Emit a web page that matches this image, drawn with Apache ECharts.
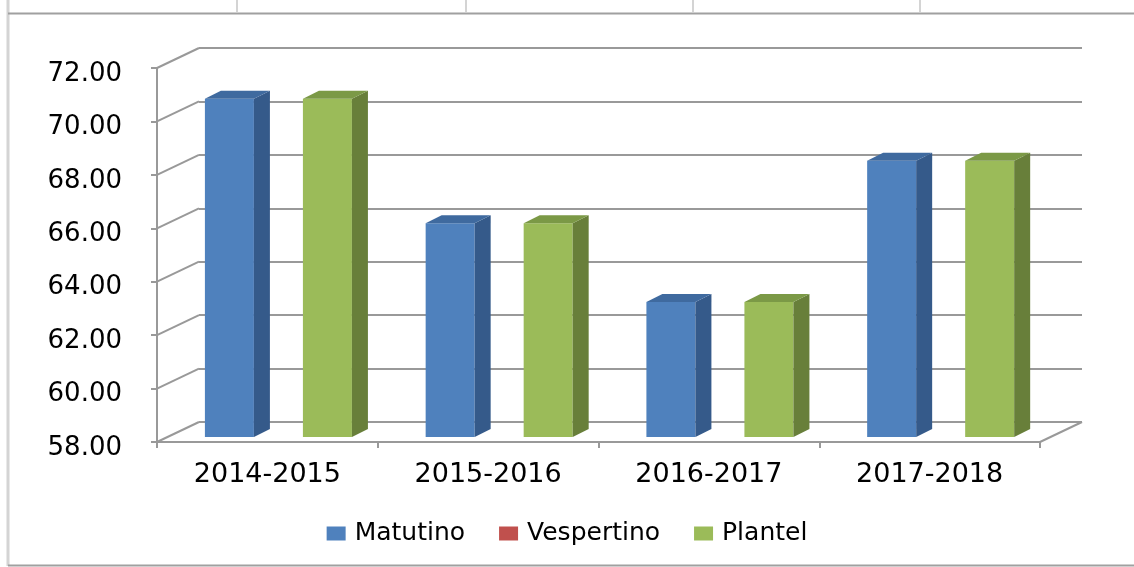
<!DOCTYPE html>
<html>
<head>
<meta charset="utf-8">
<script src="https://cdn.jsdelivr.net/npm/echarts@6/dist/echarts.min.js"></script>
<style>
html, body { margin: 0; padding: 0; background: #fff; }
#chart { width: 1134px; height: 567px; }
</style>
</head>
<body>
<div id="chart"></div>
<script>
// data
var categories = ['2014-2015', '2015-2016', '2016-2017', '2017-2018'];
var matutino = [70.66, 66.0, 63.05, 68.34];
var vespertino = [null, null, null, null];
var plantel = [70.66, 66.0, 63.05, 68.34];
var yTicks = [58, 60, 62, 64, 66, 68, 70, 72];

var chart = echarts.init(document.getElementById('chart'));

// depth of the floor / back wall and of the bars (pseudo 3d)
var DX = 42, DY = -20;
var BAR_DX = 16, BAR_DY = -8;
var FONT = 'DejaVu Sans';
var LINE_COLOR = '#999999';

function barRender(slot, front, side, top) {
  return function (params, api) {
    var v = api.value(1);
    if (v == null || isNaN(v)) return;
    var i = api.value(0);
    var band = api.size([1, 0])[0];
    var bw = band * 0.222;
    var c = api.coord([i, v]);
    var b = api.coord([i, yTicks[0]]);
    // bars sit a bit behind the front plane
    var x = c[0] + band * 0.05 + (slot - 1.5) * bw;
    var yt = c[1] - 5, yb = b[1] - 5;
    return {
      type: 'group',
      children: [
        { type: 'rect', shape: { x: x, y: yt, width: bw, height: yb - yt }, style: { fill: front } },
        { type: 'polygon', shape: { points: [[x + bw, yt], [x + bw + BAR_DX, yt + BAR_DY], [x + bw + BAR_DX, yb + BAR_DY], [x + bw, yb]] }, style: { fill: side } },
        { type: 'polygon', shape: { points: [[x, yt], [x + BAR_DX, yt + BAR_DY], [x + bw + BAR_DX, yt + BAR_DY], [x + bw, yt]] }, style: { fill: top } }
      ]
    };
  };
}

function toData(arr) {
  return arr.map(function (v, i) { return [i, v]; });
}

function wallRender(params, api) {
  var cs = params.coordSys;
  var v = api.value(1);
  var y = api.coord([0, v])[1];
  var children = [
    { type: 'line', shape: { x1: cs.x, y1: y, x2: cs.x + DX, y2: y + DY }, style: { stroke: LINE_COLOR, lineWidth: 2 } }
  ];
  if (v === yTicks[0]) {
    children.push({ type: 'line', shape: { x1: cs.x + cs.width, y1: y, x2: cs.x + cs.width + DX, y2: y + DY }, style: { stroke: LINE_COLOR, lineWidth: 2 } });
  }
  return { type: 'group', children: children };
}

var option = {
  animation: false,
  backgroundColor: '#fff',
  graphic: [
    { type: 'line', shape: { x1: 8, y1: 0, x2: 8, y2: 566 }, style: { stroke: '#d4d4d4', lineWidth: 3 } },
    { type: 'line', shape: { x1: 237, y1: 0, x2: 237, y2: 12 }, style: { stroke: '#d4d4d4', lineWidth: 2 } },
    { type: 'line', shape: { x1: 466, y1: 0, x2: 466, y2: 12 }, style: { stroke: '#d4d4d4', lineWidth: 2 } },
    { type: 'line', shape: { x1: 693, y1: 0, x2: 693, y2: 12 }, style: { stroke: '#d4d4d4', lineWidth: 2 } },
    { type: 'line', shape: { x1: 920, y1: 0, x2: 920, y2: 12 }, style: { stroke: '#d4d4d4', lineWidth: 2 } },
    { type: 'line', shape: { x1: 8, y1: 13.5, x2: 1134, y2: 13.5 }, style: { stroke: '#a0a0a0', lineWidth: 2 } },
    { type: 'line', shape: { x1: 8, y1: 565.5, x2: 1134, y2: 565.5 }, style: { stroke: '#a0a0a0', lineWidth: 2 } }
  ],
  legend: {
    data: ['Matutino', 'Vespertino', 'Plantel'],
    left: 'center',
    top: 516,
    icon: 'rect',
    itemWidth: 19,
    itemHeight: 14,
    itemGap: 34,
    textStyle: { fontFamily: FONT, fontSize: 25, color: '#000', padding: [0, 0, 0, 4] }
  },
  grid: [
    { left: 157, right: 94, top: 68, bottom: 125 },
    { left: 157 + DX, right: 94 - DX, top: 68 + DY, bottom: 125 - DY }
  ],
  xAxis: [
    {
      type: 'category',
      gridIndex: 0,
      data: categories,
      axisLine: { lineStyle: { color: LINE_COLOR, width: 2 } },
      axisTick: { show: true, length: 6, lineStyle: { color: LINE_COLOR, width: 2 } },
      axisLabel: { fontFamily: FONT, fontSize: 27, color: '#000', margin: 19 }
    },
    { type: 'value', gridIndex: 1, show: false, min: 0, max: 1 }
  ],
  yAxis: [
    {
      type: 'value',
      gridIndex: 0,
      min: 58,
      max: 72,
      interval: 2,
      axisLine: { show: true, lineStyle: { color: LINE_COLOR, width: 2 } },
      axisTick: { show: true, length: 6, lineStyle: { color: LINE_COLOR, width: 2 } },
      splitLine: { show: false },
      axisLabel: {
        fontFamily: FONT, fontSize: 26, color: '#000', margin: 35,
        verticalAlign: 'top',
        lineHeight: 12,
        formatter: function (v) { return v.toFixed(2); }
      }
    },
    {
      type: 'value',
      gridIndex: 1,
      min: 58,
      max: 72,
      interval: 2,
      axisLine: { show: false },
      axisTick: { show: false },
      axisLabel: { show: false },
      splitLine: { show: true, lineStyle: { color: LINE_COLOR, width: 2 } }
    }
  ],
  series: [
    {
      type: 'custom',
      name: 'walls',
      xAxisIndex: 0,
      yAxisIndex: 0,
      z: 1,
      silent: true,
      renderItem: wallRender,
      data: yTicks.map(function (v) { return [0, v]; })
    },
    {
      type: 'custom',
      name: 'Matutino',
      itemStyle: { color: '#4F81BD' },
      renderItem: barRender(0, '#4F81BD', '#355A8A', '#3F6A9F'),
      encode: { x: 0, y: 1 },
      data: toData(matutino),
      z: 3
    },
    {
      type: 'custom',
      name: 'Vespertino',
      itemStyle: { color: '#C0504D' },
      renderItem: barRender(1, '#C0504D', '#8C3836', '#A34441'),
      encode: { x: 0, y: 1 },
      data: toData(vespertino),
      z: 3
    },
    {
      type: 'custom',
      name: 'Plantel',
      itemStyle: { color: '#9BBB59' },
      renderItem: barRender(2, '#9BBB59', '#687F3A', '#7B9946'),
      encode: { x: 0, y: 1 },
      data: toData(plantel),
      z: 3
    }
  ]
};

chart.setOption(option);
</script>
</body>
</html>
